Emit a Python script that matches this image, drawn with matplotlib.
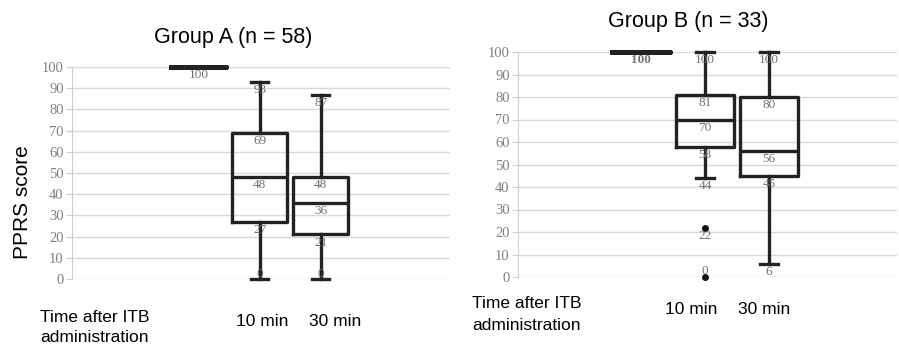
import numpy as np
import matplotlib
matplotlib.use("Agg")
import matplotlib.pyplot as plt

# PPRS score box plots, before / 10 min / 30 min after ITB administration
titles = ["Group A (n = 58)", "Group B (n = 33)"]
time_labels = ["10 min", "30 min"]

# Group A: baseline, 10 min, 30 min
a_whislo = [100, 0, 0]
a_q1 = [100, 27, 21]
a_med = [100, 48, 36]
a_q3 = [100, 69, 48]
a_whishi = [100, 93, 87]
a_fliers = [[], [], []]
a_labels = [[100], [93, 69, 48, 27, 0], [87, 48, 36, 21, 0]]

# Group B: baseline, 10 min, 30 min
b_whislo = [100, 44, 6]
b_q1 = [100, 58, 45]
b_med = [100, 70, 56]
b_q3 = [100, 81, 80]
b_whishi = [100, 100, 100]
b_fliers = [[], [22, 0], []]
b_labels = [[100], [100, 81, 70, 58, 44, 22, 0], [100, 80, 56, 45, 6]]

positions = [2, 3, 4]
W, H = 899, 345

fig = plt.figure(figsize=(W / 100, H / 100), dpi=100)

def px_axes(x0, x1, y_top, y_bot):
    return fig.add_axes([x0 / W, 1 - y_bot / H, (x1 - x0) / W, (y_bot - y_top) / H])

axA = px_axes(72, 450, 67, 279)
axB = px_axes(518, 897, 52, 277)

serif = "Liberation Serif"
sans = "Liberation Sans"
lab_col = "#707070"
box_col = "#222222"


def draw(ax, whislo, q1, med, q3, whishi, fliers, labels, xlim, bold100):
    stats = []
    for i in range(len(q1)):
        stats.append(dict(whislo=whislo[i], q1=q1[i], med=med[i], q3=q3[i],
                          whishi=whishi[i], fliers=fliers[i]))
    line = dict(color=box_col, linewidth=2.4)
    art = ax.bxp(stats, positions=positions, widths=0.9, capwidths=0.28,
                 boxprops=line, whiskerprops=line, capprops=line,
                 medianprops=line,
                 flierprops=dict(marker="o", markersize=4, markerfacecolor="#111111",
                                 markeredgecolor="#111111"),
                 manage_ticks=False)
    for key in ["boxes", "medians"]:
        art[key][0].set_linewidth(3.5)
    for key in ["boxes", "medians", "whiskers", "caps", "fliers"]:
        for a in art[key]:
            a.set_clip_on(False)

    for pos, vals in zip(positions, labels):
        for v in vals:
            if v <= 2:
                ax.text(pos, 2.5, str(v), ha="center", va="center", fontsize=9.5,
                        family=serif, color=lab_col)
            else:
                ax.text(pos, v - 1.0, str(v), ha="center", va="top", fontsize=9.5,
                        family=serif, color=lab_col,
                        fontweight="bold" if (bold100 and pos == 2) else "normal")

    ax.set_ylim(0, 100)
    ax.set_xlim(*xlim)
    ax.set_yticks(np.arange(0, 101, 10))
    ax.set_xticks([])
    ax.yaxis.grid(True, color="#d9d9d9", linewidth=1)
    ax.set_axisbelow(True)
    for s in ["top", "right", "bottom"]:
        ax.spines[s].set_visible(False)
    ax.spines["left"].set_color("#cfcfcf")
    ax.tick_params(axis="y", length=4, color="#cfcfcf", labelsize=10.5,
                   labelcolor="#808080", pad=2)
    for t in ax.get_yticklabels():
        t.set_family(serif)


draw(axA, a_whislo, a_q1, a_med, a_q3, a_whishi, a_fliers, a_labels,
     (-0.08, 6.12), False)
draw(axB, b_whislo, b_q1, b_med, b_q3, b_whishi, b_fliers, b_labels,
     (0.08, 6.0), True)

# titles and axis texts
fig.text(233 / W, 1 - 37 / H, titles[0], ha="center", va="center",
         fontsize=15.5, family=sans)
fig.text(688 / W, 1 - 22 / H, titles[1], ha="center", va="center",
         fontsize=15.5, family=sans)
fig.text(23 / W, 1 - 202 / H, "PPRS score", rotation=90, ha="center",
         va="center", fontsize=15, family=sans)

fig.text(40 / W, 1 - 318 / H, "Time after ITB", ha="left", va="center",
         fontsize=12.5, family=sans)
fig.text(40 / W, 1 - 338 / H, "administration", ha="left", va="center",
         fontsize=12.5, family=sans)
fig.text(262 / W, 1 - 322 / H, time_labels[0], ha="center", va="center",
         fontsize=12.5, family=sans)
fig.text(335 / W, 1 - 322 / H, time_labels[1], ha="center", va="center",
         fontsize=12.5, family=sans)

fig.text(472 / W, 1 - 303 / H, "Time after ITB", ha="left", va="center",
         fontsize=12.5, family=sans)
fig.text(472 / W, 1 - 325 / H, "administration", ha="left", va="center",
         fontsize=12.5, family=sans)
fig.text(691 / W, 1 - 310 / H, time_labels[0], ha="center", va="center",
         fontsize=12.5, family=sans)
fig.text(764 / W, 1 - 310 / H, time_labels[1], ha="center", va="center",
         fontsize=12.5, family=sans)

fig.savefig("out.png", dpi=100)
